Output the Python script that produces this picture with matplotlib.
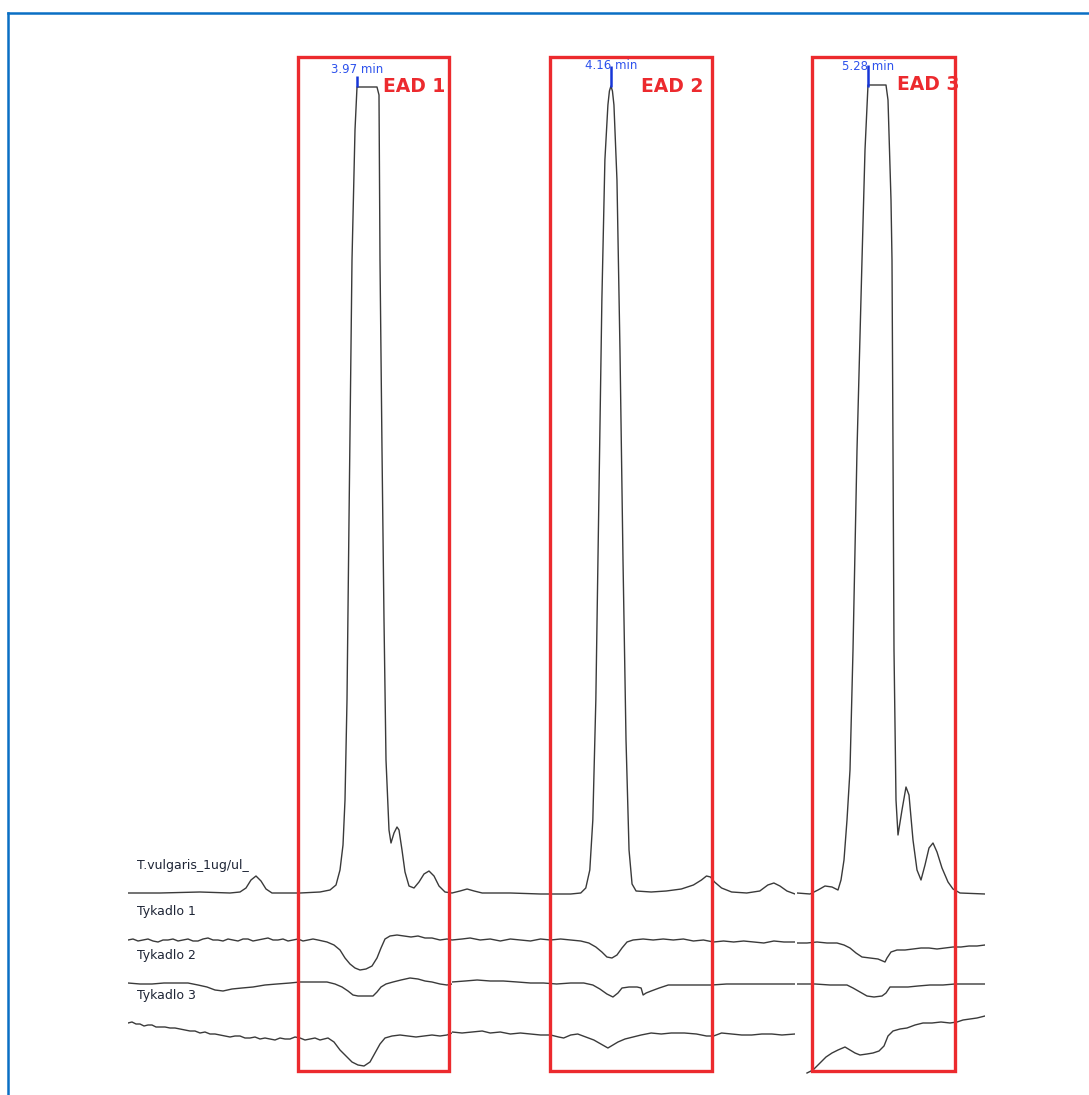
import matplotlib
matplotlib.use("Agg")
import matplotlib.pyplot as plt
from matplotlib.lines import Line2D
from matplotlib.patches import Rectangle

# ── Data: three time windows (min) of the GC-EAD run ───────────────────────
# FID trace (signal above baseline)
fid_t1 = [1.68, 2.00, 2.40, 2.70, 2.80, 2.86, 2.91, 2.96, 3.01, 3.06, 3.12, 3.40, 3.60, 3.70,
          3.76, 3.80, 3.83, 3.85, 3.87, 3.89, 3.92, 3.95, 3.97, 4.17, 4.19, 4.20, 4.22, 4.24,
          4.26, 4.29, 4.31, 4.34, 4.37, 4.39, 4.42, 4.45, 4.49, 4.54, 4.59, 4.64, 4.69, 4.74,
          4.79, 4.85, 4.92]
fid_v1 = [0, 0, 1, 0, 1, 5, 13, 17, 12, 4, 0, 0, 1, 3,
          8, 23, 48, 93, 193, 373, 633, 763, 806, 806, 798, 633, 443, 273,
          133, 63, 50, 60, 66, 63, 43, 21, 7, 5, 11, 19, 22, 17,
          7, 1, 0]
fid_t2 = [2.58, 2.66, 2.73, 2.80, 2.88, 3.16, 3.46, 3.76, 3.86, 3.91, 3.95, 3.98, 4.01, 4.04,
          4.07, 4.10, 4.13, 4.145, 4.16, 4.175, 4.19, 4.22, 4.25, 4.28, 4.31, 4.34, 4.37, 4.41,
          4.56, 4.71, 4.86, 4.98, 5.06, 5.11, 5.15, 5.19, 5.26, 5.36, 5.51, 5.64, 5.72, 5.78,
          5.84, 5.91, 5.99]
fid_v2 = [0, 2, 4, 2, 0, 0, -1, -1, 0, 5, 23, 73, 193, 393,
          593, 733, 788, 802, 807, 802, 788, 713, 543, 333, 153, 43, 9, 2,
          1, 2, 4, 8, 13, 17, 16, 11, 5, 1, 0, 2, 8, 10,
          7, 2, -1]
fid_t3 = [4.57, 4.70, 4.78, 4.85, 4.92, 4.98, 5.01, 5.04, 5.07, 5.10, 5.13, 5.17, 5.22, 5.25,
          5.28, 5.46, 5.48, 5.51, 5.52, 5.53, 5.54, 5.56, 5.58, 5.62, 5.66, 5.69, 5.73, 5.77,
          5.81, 5.85, 5.89, 5.93, 5.97, 6.02, 6.08, 6.13, 6.20, 6.45]
fid_v3 = [0, -1, 3, 7, 6, 3, 13, 33, 73, 123, 243, 443, 633, 743,
          808, 808, 793, 693, 633, 443, 243, 93, 58, 83, 106, 98, 53, 23,
          13, 28, 45, 50, 41, 25, 11, 4, 0, -1]

# Tykadlo 1 (antenna 1)
ead1_t1 = [1.68, 1.73, 1.78, 1.83, 1.88, 1.93, 1.98, 2.03, 2.08, 2.13, 2.18, 2.23, 2.28, 2.33,
           2.38, 2.43, 2.48, 2.53, 2.58, 2.63, 2.68, 2.73, 2.78, 2.83, 2.88, 2.93, 2.98, 3.03,
           3.08, 3.13, 3.18, 3.23, 3.28, 3.33, 3.38, 3.43, 3.48, 3.53, 3.58, 3.67, 3.74, 3.80,
           3.85, 3.90, 3.95, 4.00, 4.06, 4.12, 4.17, 4.21, 4.25, 4.30, 4.37, 4.44, 4.51, 4.58,
           4.65, 4.72, 4.80, 4.87, 4.92]
ead1_v1 = [0, 1, -1, 0, 1, -1, -2, 0, 0, 1, -1, 0, 1, -1,
           -1, 1, 2, 0, 0, -1, 1, 0, -1, 1, 1, -1, 0, 1,
           2, 0, 0, 1, -1, 0, 1, -1, 0, 1, 0, -2, -5, -10,
           -18, -24, -28, -30, -29, -26, -18, -8, 1, 4, 5, 4, 3, 4,
           2, 2, 0, 1, 0]
ead1_t2 = [2.58, 2.68, 2.76, 2.86, 2.96, 3.06, 3.16, 3.26, 3.36, 3.46, 3.56, 3.66, 3.76, 3.86,
           3.94, 4.01, 4.07, 4.12, 4.17, 4.22, 4.27, 4.32, 4.38, 4.48, 4.58, 4.68, 4.78, 4.88,
           4.98, 5.08, 5.18, 5.28, 5.38, 5.48, 5.58, 5.68, 5.78, 5.88, 5.99]
ead1_v2 = [0, 1, 2, 0, 1, -1, 1, 0, -1, 1, 0, 1, 0, -1,
           -3, -7, -12, -17, -18, -15, -8, -2, 0, 1, 0, 1, 0, 1,
           -1, 0, -2, -1, -2, -1, -2, -3, -1, -2, -2]
ead1_t3 = [4.57, 4.67, 4.77, 4.87, 4.97, 5.04, 5.10, 5.16, 5.22, 5.30, 5.38, 5.45, 5.47, 5.51,
           5.57, 5.65, 5.73, 5.81, 5.89, 5.97, 6.05, 6.13, 6.21, 6.29, 6.37, 6.45]
ead1_v3 = [-3, -3, -2, -3, -3, -5, -8, -13, -17, -18, -19, -22, -18, -12,
           -10, -10, -9, -8, -8, -9, -8, -7, -7, -6, -6, -5]

# Tykadlo 2 (antenna 2)
ead2_t1 = [1.68, 1.80, 1.92, 2.04, 2.16, 2.28, 2.38, 2.47, 2.55, 2.63, 2.72, 2.82, 2.93, 3.05,
           3.17, 3.30, 3.40, 3.55, 3.67, 3.75, 3.82, 3.88, 3.93, 3.98, 4.06, 4.13, 4.17, 4.21,
           4.26, 4.33, 4.41, 4.50, 4.58, 4.65, 4.72, 4.80, 4.87, 4.92]
ead2_v1 = [0, -1, -1, 0, 0, 0, -2, -4, -7, -8, -6, -5, -4, -2,
           -1, 0, 1, 1, 1, -1, -4, -8, -12, -13, -13, -13, -9, -4,
           -1, 1, 3, 5, 4, 2, 1, -1, -2, -1]
ead2_t2 = [2.58, 2.71, 2.83, 2.96, 3.09, 3.23, 3.36, 3.49, 3.62, 3.76, 3.89, 3.98, 4.05, 4.12,
           4.18, 4.23, 4.27, 4.34, 4.42, 4.46, 4.48, 4.51, 4.56, 4.64, 4.73, 4.86, 5.01, 5.16,
           5.31, 5.46, 5.61, 5.76, 5.99]
ead2_v2 = [1, 2, 3, 2, 2, 1, 0, 0, -1, 0, 0, -2, -6, -11,
           -14, -10, -5, -4, -4, -5, -12, -10, -8, -5, -2, -2, -2, -2,
           -1, -1, -1, -1, -1]
ead2_t3 = [4.57, 4.75, 4.90, 5.07, 5.13, 5.20, 5.27, 5.34, 5.42, 5.46, 5.50, 5.58, 5.68, 5.78,
           5.90, 6.03, 6.15, 6.30, 6.45]
ead2_v3 = [-1, -1, -2, -2, -5, -9, -13, -14, -13, -10, -4, -4, -4, -3,
           -2, -2, -1, -1, -1]

# Tykadlo 3 (antenna 3)
ead3_t1 = [1.68, 1.72, 1.76, 1.80, 1.84, 1.88, 1.92, 1.96, 2.00, 2.05, 2.10, 2.15, 2.20, 2.25,
           2.30, 2.35, 2.40, 2.45, 2.50, 2.55, 2.60, 2.65, 2.70, 2.75, 2.80, 2.85, 2.90, 2.95,
           3.00, 3.05, 3.10, 3.15, 3.20, 3.25, 3.30, 3.35, 3.40, 3.45, 3.50, 3.55, 3.60, 3.64,
           3.68, 3.74, 3.80, 3.86, 3.92, 3.98, 4.04, 4.10, 4.15, 4.20, 4.25, 4.32, 4.40, 4.48,
           4.56, 4.64, 4.72, 4.80, 4.87, 4.92]
ead3_v1 = [10, 11, 9, 9, 7, 8, 8, 6, 6, 6, 5, 5, 4, 3,
           2, 2, 0, 1, -1, -1, -2, -3, -4, -3, -3, -5, -5, -4,
           -6, -5, -6, -7, -5, -6, -6, -4, -5, -7, -6, -5, -7, -6,
           -5, -9, -17, -23, -29, -32, -33, -29, -20, -11, -5, -3, -2, -3,
           -4, -3, -2, -3, -2, 0]
ead3_t2 = [2.58, 2.68, 2.78, 2.88, 2.96, 3.06, 3.16, 3.26, 3.36, 3.46, 3.56, 3.64, 3.69, 3.76,
           3.83, 3.91, 3.99, 4.06, 4.13, 4.18, 4.23, 4.30, 4.38, 4.46, 4.56, 4.66, 4.76, 4.89,
           5.01, 5.11, 5.18, 5.26, 5.36, 5.46, 5.56, 5.66, 5.76, 5.86, 5.99]
ead3_v2 = [1, 0, 1, 2, 0, 1, -1, 0, -1, -2, -2, -4, -5, -2,
           -1, -4, -7, -11, -15, -12, -9, -6, -4, -2, 0, -1, 0, 0,
           -1, -3, -3, 0, -1, -2, -2, -1, -1, -2, -1]
ead3_t3 = [4.67, 4.73, 4.80, 4.86, 4.92, 4.98, 5.05, 5.10, 5.15, 5.20, 5.27, 5.33, 5.39, 5.44,
           5.48, 5.53, 5.60, 5.67, 5.75, 5.83, 5.92, 6.01, 6.10, 6.17, 6.23, 6.30, 6.37, 6.45]
ead3_v3 = [-40, -37, -30, -24, -20, -17, -14, -17, -20, -22, -21, -20, -18, -13,
           -3, 2, 4, 5, 8, 10, 10, 11, 10, 11, 13, 14, 15, 17]

trace_labels = ["T.vulgaris_1ug/ul_", "Tykadlo 1", "Tykadlo 2", "Tykadlo 3"]
trace_offsets = [0, -47, -90, -140]

peak_times = [3.97, 4.16, 5.28]
peak_labels = ["3.97 min", "4.16 min", "5.28 min"]
ead_labels = ["EAD 1", "EAD 2", "EAD 3"]
ead_windows = [(3.38, 4.89), (3.55, 5.16), (4.72, 6.15)]

# ── Layout ──────────────────────────────────────────────────────────────────
W, H = 1089, 1095
fig = plt.figure(figsize=(W / 100, H / 100), dpi=100, facecolor="white")

seg_px = [(128, 452), (452, 795), (797, 985)]
seg_xlim = [(1.68, 4.92), (2.58, 5.99), (4.57, 6.45)]
YLIM = (-202, 893)

TRACE = "#3a3a3a"
RED = "#ec2a2e"
BLUE_TXT = "#2d52ec"
BLUE_TICK = "#1736d8"

segments = [
    [(fid_t1, fid_v1), (ead1_t1, ead1_v1), (ead2_t1, ead2_v1), (ead3_t1, ead3_v1)],
    [(fid_t2, fid_v2), (ead1_t2, ead1_v2), (ead2_t2, ead2_v2), (ead3_t2, ead3_v2)],
    [(fid_t3, fid_v3), (ead1_t3, ead1_v3), (ead2_t3, ead2_v3), (ead3_t3, ead3_v3)],
]

tick_tops = [817, 827, 828]
label_bottoms = [817, 821, 820]
ead_label_v = [806, 806, 808]
ead_label_dt = [0.26, 0.30, 0.29]

axes = []
for i, (x0, x1) in enumerate(seg_px):
    ax = fig.add_axes([x0 / W, 0, (x1 - x0) / W, 1])
    ax.set_xlim(*seg_xlim[i])
    ax.set_ylim(*YLIM)
    ax.axis("off")
    for (t, v), off in zip(segments[i], trace_offsets):
        ax.plot(t, [val + off for val in v], color=TRACE, lw=1.0)

    # EAD window
    a, b = ead_windows[i]
    ax.add_patch(Rectangle((a, -178), b - a, 836 + 178, fill=False,
                           edgecolor=RED, lw=2.4, clip_on=False, zorder=5))
    # peak marker + retention time
    pt = peak_times[i]
    ax.plot([pt, pt], [806, tick_tops[i]], color=BLUE_TICK, lw=1.8,
            solid_capstyle="butt", clip_on=False, zorder=6)
    ax.text(pt, label_bottoms[i], peak_labels[i], color=BLUE_TXT, fontsize=8.5,
            ha="center", va="bottom", clip_on=False)
    ax.text(pt + ead_label_dt[i], ead_label_v[i], ead_labels[i], color=RED,
            fontsize=13.5, fontweight="bold", ha="left", va="center", clip_on=False)
    axes.append(ax)

# trace names
label_v = [28, -19, -62, -102]
for name, lv in zip(trace_labels, label_v):
    axes[0].text(1.77, lv, name, color="#1e2536", fontsize=9, ha="left", va="center")

# blue window frame
fig.add_artist(Line2D([8 / W, 8 / W], [0, 1 - 12.5 / H], color="#0a6fc4", lw=1.8))
fig.add_artist(Line2D([8 / W, 1], [1 - 12.5 / H, 1 - 12.5 / H], color="#0a6fc4", lw=1.8))

fig.savefig("out.png", dpi=100, facecolor="white")
